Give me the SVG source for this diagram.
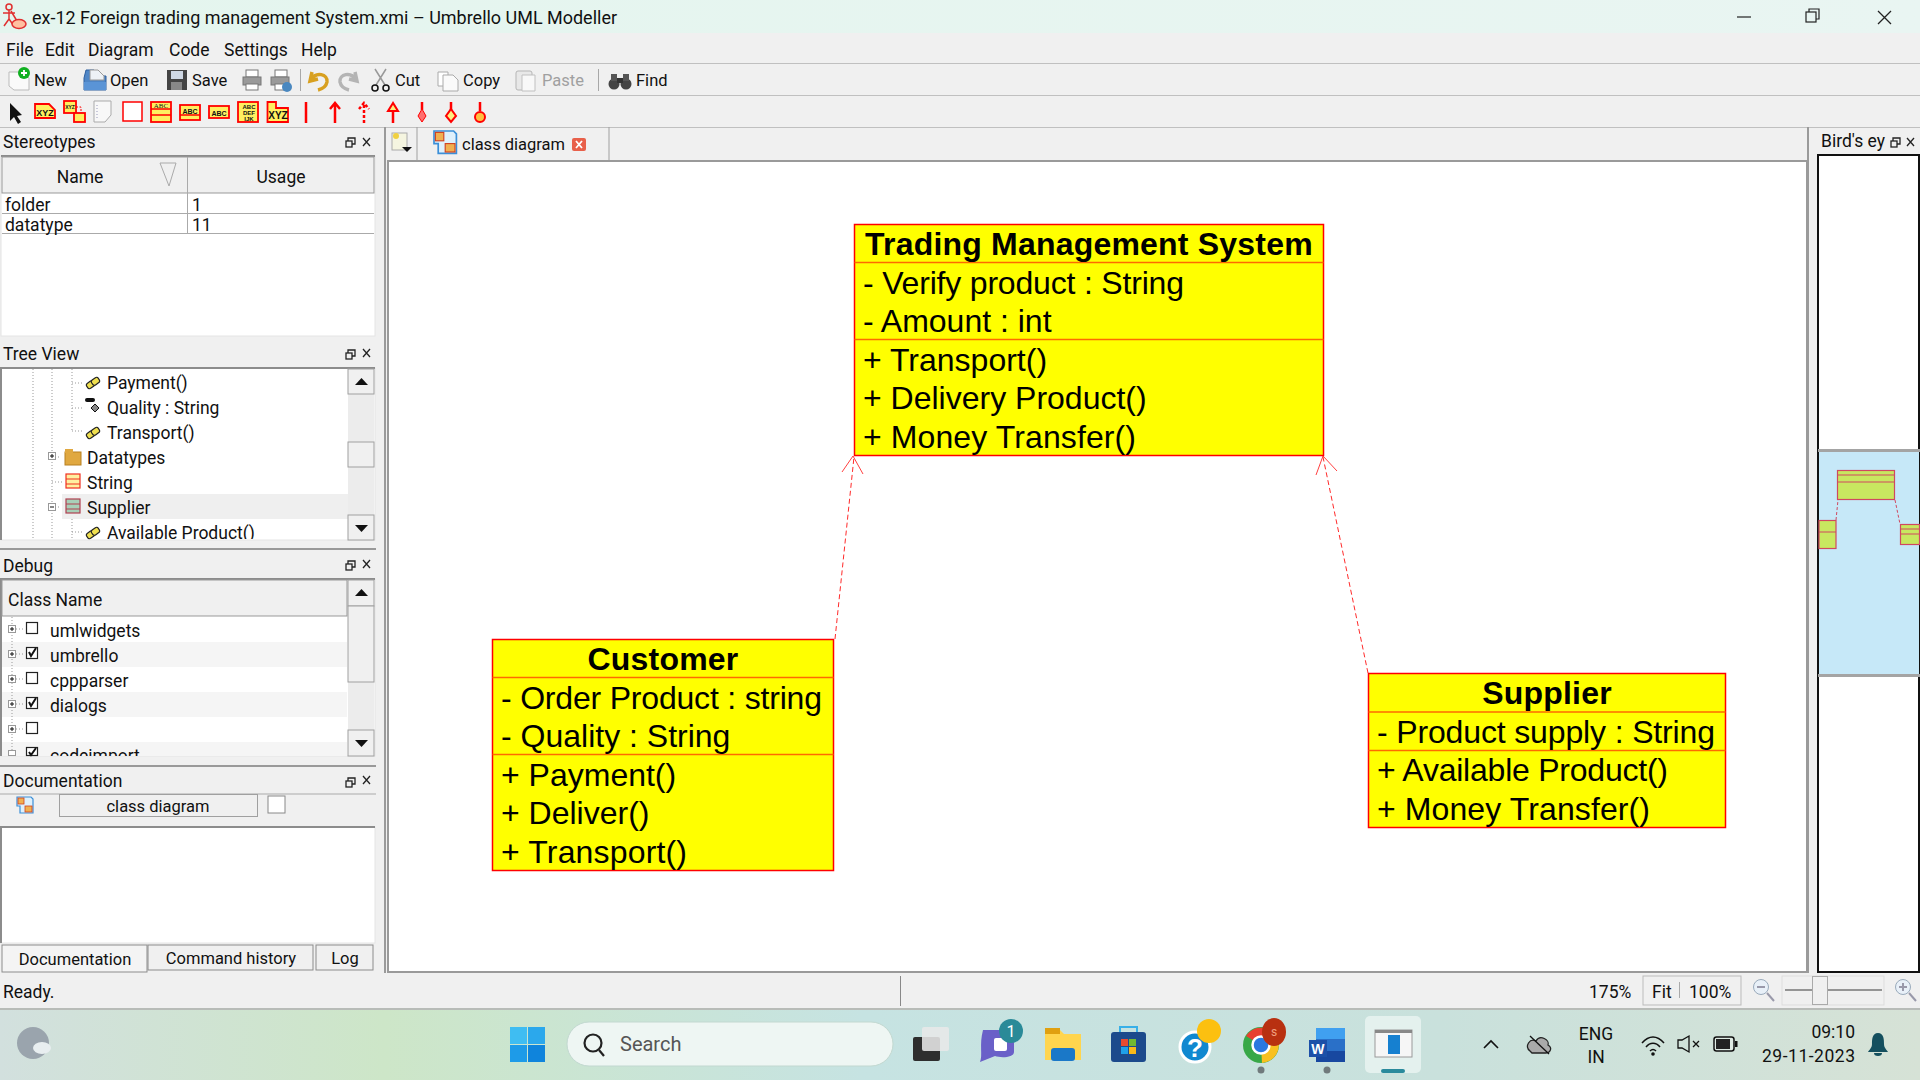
<svg xmlns="http://www.w3.org/2000/svg" width="1920" height="1080" viewBox="0 0 1920 1080">
<style>
.ui{font-family:Roboto,"Noto Sans","Liberation Sans",sans-serif;font-size:17.500px;fill:#111}
.sm{font-size:16.500px}
.dim{fill:#a0a0a0}
.c{text-anchor:middle}
.r{text-anchor:end}
.tiny{font-family:"Liberation Sans",sans-serif;font-weight:bold;font-size:7px;fill:#111;text-anchor:middle}
.box{fill:#ffff00;stroke:#ff0000;stroke-width:1.5}
.div{stroke:#ff6a00;stroke-width:1.5}
.ut{font-family:"Liberation Sans",Arial,sans-serif;font-size:32px;fill:#000}
.ub{font-family:"Liberation Sans",Arial,sans-serif;font-size:32px;font-weight:bold;fill:#000;letter-spacing:.2px}
.assoc{fill:none;stroke:#ff2a2a;stroke-width:1;stroke-dasharray:5 3}
.head{fill:none;stroke:#ff4040;stroke-width:1}
.btn{fill:#f0f0f0;stroke:#a0a0a0;stroke-width:1}
.fr{fill:#fff;stroke:#e4e4e4;stroke-width:1}
.ft{stroke:#8c8c8c;stroke-width:2;fill:none}
.cb{fill:#fff;stroke:#222;stroke-width:1.2}
.chk{fill:none;stroke:#111;stroke-width:2}
.exp{fill:#fff;stroke:#999;stroke-width:1}
.pm{stroke:#111;stroke-width:1}
.dot{stroke:#999;stroke-width:1;stroke-dasharray:1 2;fill:none}
.rl{stroke:#ff0000;stroke-width:2.5;fill:none}
.ic{fill:#ffef60;stroke:#ff0000;stroke-width:1.8}
.key{fill:#f0e050;stroke:#222;stroke-width:1.2}
.tri{fill:#111}
</style>
<defs>
<linearGradient id="tb" x1="0" x2="1" y1="0" y2="0"><stop offset="0" stop-color="#d2e0de"/><stop offset=".2" stop-color="#cde6c8"/><stop offset=".45" stop-color="#c6e3e2"/><stop offset=".75" stop-color="#c9e1dc"/><stop offset="1" stop-color="#d6e2d6"/></linearGradient>
<linearGradient id="ttl" x1="0" x2="1" y1="0" y2="0"><stop offset="0" stop-color="#e4f5ee"/><stop offset="1" stop-color="#e9f5f2"/></linearGradient>
<g id="keyic"><rect class="key" x="-7" y="-3" width="8" height="6" rx="2" transform="rotate(-35)"/><rect class="key" x="-1" y="-3" width="8" height="6" rx="2" transform="rotate(-35)"/></g>
<g id="diag"><path d="M8 0H14L16 2V16H3V9H0V0Z" fill="#dff0fb" stroke="#3b8fd8" stroke-width="1.2"/><rect x="1" y="1" width="6" height="6" fill="#f0b050" stroke="#d04020" stroke-width=".8"/><rect x="8" y="9" width="7" height="6" fill="#f0b050" stroke="#d04020" stroke-width=".8"/></g>
<clipPath id="cl1"><rect x="2" y="369" width="346" height="170"/></clipPath><clipPath id="cl2"><rect x="2" y="742" width="345" height="14"/></clipPath>
</defs>
<rect width="1920" height="1080" fill="#f0f0f0"/>
<rect width="1920" height="33" fill="url(#ttl)"/>
<g id="title-bar">
<circle cx="9" cy="7" r="3" fill="none" stroke="#e03030" stroke-width="1.5"/><path d="M9 10V19M3 13H15M9 19L4 26M9 19L14 26M11 11L17 21" stroke="#e03030" stroke-width="1.5" fill="none"/><ellipse cx="19" cy="24" rx="7" ry="4.5" fill="#ffc0a0" stroke="#e03030" stroke-width="1.5"/>
<text class="ui" x="32" y="24" textLength="585" lengthAdjust="spacingAndGlyphs">ex-12 Foreign trading management System.xmi – Umbrello UML Modeller</text>
<path d="M1737 17H1751" stroke="#222" stroke-width="1.2"/>
<rect x="1806" y="12" width="10" height="10" fill="none" stroke="#222" stroke-width="1.2"/><path d="M1809 12V9H1819V19H1816" fill="none" stroke="#222" stroke-width="1.2"/>
<path d="M1878 11L1891 24M1891 11L1878 24" stroke="#222" stroke-width="1.3"/>
</g>
<g id="menu">
<text class="ui" x="6" y="56">File</text><text class="ui" x="45" y="56">Edit</text><text class="ui" x="88" y="56">Diagram</text><text class="ui" x="169" y="56">Code</text><text class="ui" x="224" y="56">Settings</text><text class="ui" x="301" y="56">Help</text>
</g>
<path d="M0 63.5H1920M0 95.5H1920M0 127.5H1920" stroke="#c0c0c0" stroke-width="1"/>
<g id="toolbar-main">
<path d="M9 72H24L29 78V90H14L9 86Z" fill="#fafafa" stroke="#bbb"/><circle cx="24" cy="73" r="6" fill="#10b020"/><path d="M24 70V76M21 73H27" stroke="#fff" stroke-width="1.8"/>
<text class="ui sm" x="34" y="86">New</text>
<path d="M84 78V90H106V76H98L94 70H86Z" fill="#4f86c6" stroke="#2c5e9e"/><path d="M90 70H98L104 76V80H90Z" fill="#eef2f6" stroke="#999"/><path d="M84 82H106V90H84Z" fill="#5a94d6"/>
<text class="ui sm" x="110" y="86">Open</text>
<rect x="167" y="70" width="20" height="20" fill="#444"/><rect x="171" y="71" width="12" height="8" fill="#cfd8e4"/><rect x="171" y="82" width="11" height="8" fill="#888"/>
<text class="ui sm" x="192" y="86">Save</text>
<g fill="#9a9a9a" stroke="#777"><rect x="246" y="70" width="12" height="7" fill="#fff"/><rect x="243" y="77" width="18" height="8"/><rect x="246" y="84" width="12" height="6" fill="#fff"/></g>
<g fill="#9a9a9a" stroke="#777"><rect x="275" y="70" width="12" height="7" fill="#fff"/><rect x="271" y="77" width="18" height="8"/><rect x="275" y="84" width="10" height="6" fill="#fff"/></g><circle cx="287" cy="87" r="5" fill="#4a88c0"/>
<path d="M300.500 69V91" stroke="#a8a8a8"/>
<path d="M312 72L310 81L318 79M311 80C316 71 328 74 327 82C326 87 322 89 318 90" fill="none" stroke="#d8a020" stroke-width="3.500"/>
<path d="M355 72L357 81L349 79M356 80C351 71 339 74 340 82C341 87 345 89 349 90" fill="none" stroke="#b4b4b4" stroke-width="3.500"/>
<path d="M375 69L385 85M386 69L376 85" stroke="#999" stroke-width="1.500"/><circle cx="375" cy="88" r="3" fill="none" stroke="#111" stroke-width="1.500"/><circle cx="386" cy="88" r="3" fill="none" stroke="#111" stroke-width="1.500"/>
<text class="ui sm" x="395" y="86">Cut</text>
<path d="M438 72H448V86H438Z" fill="#fff" stroke="#aaa"/><path d="M443 75H453L458 80V91H443Z" fill="#fafafa" stroke="#aaa"/>
<text class="ui sm" x="463" y="86">Copy</text>
<rect x="516" y="71" width="16" height="19" rx="2" fill="#e8e8e8" stroke="#b5b5b5"/><path d="M522 75H535V91H522Z" fill="#f8f8f8" stroke="#c0c0c0"/>
<text class="ui sm dim" x="542" y="86">Paste</text>
<path d="M598.500 69V91" stroke="#a8a8a8"/>
<circle cx="614" cy="84" r="5.500" fill="#444"/><circle cx="626" cy="84" r="5.500" fill="#444"/><rect x="611" y="74" width="6" height="7" fill="#555"/><rect x="623" y="74" width="6" height="7" fill="#555"/><rect x="617" y="78" width="6" height="5" fill="#333"/>
<text class="ui sm" x="636" y="86">Find</text>
</g>
<g id="toolbar-uml">
<path d="M10 103V121L14 117L18 124L21 122L17 116L22 115Z" fill="#111"/>
<path class="ic" d="M35 104H49L55 110V118H35Z"/><text class="tiny" x="45" y="116" style="font-size:9px">XYZ</text>
<rect class="ic" x="64" y="101" width="12" height="12"/><text class="tiny" x="70" y="109" style="font-size:5px">XYZ</text><rect class="ic" x="74" y="113" width="11" height="9"/><path d="M76 107H81V113" stroke="#f00" stroke-dasharray="2 1.500" fill="none"/>
<path d="M94 101H111V115L105 122H94Z" fill="#f8f8f8" stroke="#aaa"/><path d="M97 105V118" stroke="#99b" stroke-dasharray="1 2"/>
<rect x="123" y="102" width="19" height="19" fill="#fff" stroke="#f00" stroke-width="1.500"/>
<rect class="ic" x="151" y="102" width="20" height="20"/><path d="M151 109H171M151 115H171" stroke="#f00" stroke-width="1.500"/><text class="tiny" x="161" y="108" style="font-family:'Liberation Serif',serif;font-weight:normal;">ABC</text>
<rect class="ic" x="180" y="105" width="20" height="15"/><path d="M180 115H200" stroke="#f00" stroke-width="1.500"/><text class="tiny" x="190" y="114">ABC</text>
<rect class="ic" x="209" y="106" width="20" height="12"/><text class="tiny" x="219" y="116">ABC</text>
<rect class="ic" x="238" y="102" width="20" height="20"/><text class="tiny" x="249" y="109" style="font-size:6px">ABC</text><text class="tiny" x="249" y="115" style="font-size:6px">DEF</text><text class="tiny" x="249" y="121" style="font-size:6px">IJK</text>
<path class="ic" d="M267.500 102H276V108H288V122H267.500Z"/><text class="tiny" x="278" y="119" style="font-size:10px">XYZ</text>
<path class="rl" d="M306 102V123"/>
<path class="rl" d="M335 123V103M330 109L335 103L340 109"/>
<path class="rl" d="M364 123V103M359 109L364 103L369 109" stroke-dasharray="3 2"/>
<path class="rl" d="M393 123V110" /><path d="M393 103L388 111H398Z" fill="#ffef80" stroke="#f00" stroke-width="2"/>
<path class="rl" d="M422 102V110"/><path d="M422 109L426 116L422 122L418 116Z" fill="#ff7070" stroke="#f00"/>
<path class="rl" d="M451 102V110"/><path d="M451 109L456 116L451 122L446 116Z" fill="#ffef80" stroke="#f00" stroke-width="2"/>
<path class="rl" d="M480 102V111"/><circle cx="480" cy="117" r="5" fill="#ffc040" stroke="#f00" stroke-width="2"/>
</g>
<g id="panel-stereotypes">
<text class="ui" x="3" y="148">Stereotypes</text>
<rect class="fr" x="1" y="156" width="374" height="180"/><path class="ft" d="M1 156H375"/>
<rect x="2" y="157" width="372" height="36" fill="#f0f0f0" stroke="#999"/><path d="M187.500 157V233M2 213.500H374M2 233.500H374" stroke="#aaa"/>
<path d="M160 163H176L169 186Z" fill="none" stroke="#aaa"/>
<text class="ui c" x="80" y="183">Name</text><text class="ui c" x="281" y="183">Usage</text>
<text class="ui" x="5" y="211">folder</text><text class="ui" x="192" y="211">1</text>
<text class="ui" x="5" y="231">datatype</text><text class="ui" x="192" y="231">11</text>
</g>
<g id="panel-tree">
<text class="ui" x="3" y="360">Tree View</text>
<rect class="fr" x="1" y="368" width="374" height="172"/><path class="ft" d="M1 540V368H375"/>
<rect x="62" y="494" width="286" height="25" fill="#efefef"/>
<rect x="348" y="369" width="26" height="171" fill="#ececec"/>
<rect class="btn" x="348" y="369" width="26" height="25"/><path class="tri" d="M355 385H368L361.500 378Z"/>
<rect class="btn" x="348" y="442" width="26" height="25"/>
<rect class="btn" x="348" y="515" width="26" height="25"/><path class="tri" d="M355 525H368L361.500 532Z"/>
<path class="dot" d="M33 369V540M52 369V540M72 369V430M72 383H82M72 408H82M72 431H82M52 457H60M52 482H62M52 507H60M72 519V540M72 532H82"/>
<use href="#keyic" x="93" y="383"/><use href="#keyic" x="93" y="433"/><use href="#keyic" x="93" y="533"/>
<rect x="85" y="398" width="10" height="4" rx="2" fill="#111"/><path d="M95 404L99 408L95 412L91 408Z" fill="#888" stroke="#111"/>
<rect x="65" y="452" width="16" height="13" fill="#e0a840" stroke="#b88020"/><rect x="65" y="449" width="8" height="4" fill="#e0a840"/>
<rect x="66" y="474" width="14" height="14" fill="#fff0a0" stroke="#f03020" stroke-width="1.200"/><path d="M66 479H80M66 484H80" stroke="#f03020"/>
<rect x="66" y="499" width="14" height="14" fill="#a8d0b8" stroke="#b04050" stroke-width="1.200"/><path d="M66 504H80M66 509H80" stroke="#b04050"/>
<rect class="exp" x="48.500" y="452.500" width="7" height="7"/><path class="pm" d="M50 456H54M52 454V458"/>
<rect class="exp" x="48.500" y="503.500" width="7" height="7"/><path class="pm" d="M50 507H54"/>
<g clip-path="url(#cl1)"><text class="ui" x="107" y="389">Payment()</text><text class="ui" x="107" y="414">Quality : String</text><text class="ui" x="107" y="439">Transport()</text><text class="ui" x="87" y="464">Datatypes</text><text class="ui" x="87" y="489">String</text><text class="ui" x="87" y="514">Supplier</text><text class="ui" x="107" y="539">Available Product()</text></g>
</g>
<g id="panel-debug">
<path d="M0 549H376" stroke="#999" stroke-width="2"/>
<text class="ui" x="3" y="572">Debug</text>
<rect class="fr" x="1" y="579" width="374" height="177"/><path class="ft" d="M1 756V579H375"/>
<rect x="2" y="580" width="345" height="36" fill="#f0f0f0" stroke="#999"/>
<text class="ui" x="8" y="606">Class Name</text>
<rect x="2" y="642" width="345" height="25" fill="#f5f5f5"/><rect x="2" y="692" width="345" height="25" fill="#f5f5f5"/><rect x="2" y="742" width="345" height="14" fill="#f5f5f5"/>
<rect x="348" y="580" width="26" height="176" fill="#ececec"/>
<rect class="btn" x="348" y="580" width="26" height="26"/><path class="tri" d="M355 596H368L361.500 589Z"/>
<rect class="btn" x="348" y="606" width="26" height="76"/>
<rect class="btn" x="348" y="730" width="26" height="26"/><path class="tri" d="M355 740H368L361.500 747Z"/>
<path class="dot" d="M12 617V756M16 629H24M16 654H24M16 679H24M16 704H24M16 729H24"/>
<g id="exps"><rect class="exp" x="8.500" y="625.500" width="7" height="7"/><path class="pm" d="M10 629H14M12 627V631"/><rect class="exp" x="8.500" y="650.500" width="7" height="7"/><path class="pm" d="M10 654H14M12 652V656"/><rect class="exp" x="8.500" y="675.500" width="7" height="7"/><path class="pm" d="M10 679H14M12 677V681"/><rect class="exp" x="8.500" y="700.500" width="7" height="7"/><path class="pm" d="M10 704H14M12 702V706"/><rect class="exp" x="8.500" y="725.500" width="7" height="7"/><path class="pm" d="M10 729H14M12 727V731"/><rect class="exp" x="8.500" y="750.500" width="7" height="5"/></g>
<rect class="cb" x="26.500" y="622.500" width="11" height="11"/><rect class="cb" x="26.500" y="647.500" width="11" height="11"/><rect class="cb" x="26.500" y="672.500" width="11" height="11"/><rect class="cb" x="26.500" y="697.500" width="11" height="11"/><rect class="cb" x="26.500" y="722.500" width="11" height="11"/><rect class="cb" x="26.500" y="747.500" width="11" height="8"/>
<path class="chk" d="M29 652L31 656L36 648M29 702L31 706L36 698M29 752L31 755L36 748"/>
<text class="ui" x="50" y="637">umlwidgets</text><text class="ui" x="50" y="662">umbrello</text><text class="ui" x="50" y="687">cppparser</text><text class="ui" x="50" y="712">dialogs</text>
<g clip-path="url(#cl2)"><text class="ui" x="50" y="762">codeimport</text></g>
</g>
<g id="panel-documentation">
<path d="M0 766H376" stroke="#999" stroke-width="2"/>
<text class="ui" x="3" y="787">Documentation</text>
<path d="M0 794H376" stroke="#aaa"/>
<use href="#diag" x="17" y="797"/>
<rect class="btn" x="59.500" y="794.500" width="198" height="22"/>
<text class="ui sm c" x="158" y="812">class diagram</text>
<rect x="268" y="796" width="17" height="17" fill="#fff" stroke="#888"/>
<rect class="fr" x="1" y="827" width="374" height="116"/><path class="ft" d="M1 943V827H375"/>
<rect x="2" y="945" width="145" height="27" fill="#f4f4f4" stroke="#8c8c8c"/><text class="ui sm c" x="75" y="965">Documentation</text>
<rect x="148" y="945" width="165" height="25" fill="#f0f0f0" stroke="#8c8c8c"/><text class="ui sm c" x="231" y="964">Command history</text>
<rect x="316" y="945" width="57" height="25" fill="#f0f0f0" stroke="#8c8c8c"/><text class="ui sm c" x="345" y="964">Log</text>
</g>
<g id="canvas-area">
<rect x="384" y="127" width="2" height="846" fill="#9a9a9a"/>
<rect x="1807" y="127" width="2" height="846" fill="#9a9a9a"/>
<rect x="388" y="161" width="1419" height="811" fill="#fff" stroke="#9a9a9a" stroke-width="2"/>
<rect x="392" y="133" width="15" height="17" fill="#f5f5e0" stroke="#aaa"/><circle cx="396" cy="136" r="3" fill="#f0d040"/><path class="tri" d="M402 147H412L407 152Z"/>
<path d="M417 127V160M609 127V160" stroke="#a0a0a0"/>
<use href="#diag" transform="translate(434 131) scale(1.4)"/>
<text class="ui sm" x="462" y="150">class diagram</text>
<rect x="572" y="138" width="14" height="13" rx="2" fill="#e8604a"/><path d="M576 141L582 148M582 141L576 148" stroke="#fff" stroke-width="1.800"/>
</g>
<g id="connectors">
<path class="assoc" d="M835 639L854 457"/>
<path class="assoc" d="M1368 673L1323 457"/>
<path class="head" d="M842 472L853 456L863 474"/>
<path class="head" d="M1316 475L1323 456L1337 471"/>
</g>
<g id="node-trading">
<rect class="box" x="854.500" y="224.500" width="469" height="231"/>
<path class="div" d="M854.500 262.500H1323.500M854.500 339.500H1323.500"/>
<text class="ub" x="865" y="255">Trading Management System</text>
<text class="ut" x="863" y="294" textLength="321">- Verify product : String</text>
<text class="ut" x="863" y="332">- Amount : int</text>
<text class="ut" x="863" y="371">+ Transport()</text>
<text class="ut" x="863" y="409">+ Delivery Product()</text>
<text class="ut" x="863" y="448" textLength="273">+ Money Transfer()</text>
</g>
<g id="node-customer">
<rect class="box" x="492.500" y="639.500" width="341" height="231"/>
<path class="div" d="M492.500 677.500H833.500M492.500 754.500H833.500"/>
<text class="ub c" x="663" y="670">Customer</text>
<text class="ut" x="501" y="709" textLength="321">- Order Product : string</text>
<text class="ut" x="501" y="747">- Quality : String</text>
<text class="ut" x="501" y="786">+ Payment()</text>
<text class="ut" x="501" y="824">+ Deliver()</text>
<text class="ut" x="501" y="863" textLength="186">+ Transport()</text>
</g>
<g id="node-supplier">
<rect class="box" x="1368.500" y="673.500" width="357" height="154"/>
<path class="div" d="M1368.500 712H1725.500M1368.500 750.500H1725.500"/>
<text class="ub c" x="1547" y="704">Supplier</text>
<text class="ut" x="1377" y="743" textLength="338">- Product supply : String</text>
<text class="ut" x="1377" y="781" textLength="291">+ Available Product()</text>
<text class="ut" x="1377" y="820" textLength="273">+ Money Transfer()</text>
</g>
<g id="birdseye">
<text class="ui" x="1821" y="147">Bird's ey</text>
<rect x="1818" y="155" width="101" height="817" fill="#fff" stroke="#111" stroke-width="2"/>
<rect x="1819" y="451" width="100" height="224" fill="#c6e8f8"/>
<path d="M1818 450.500H1920M1818 675.500H1920" stroke="#a4a4a4" stroke-width="3"/>
<rect x="1837.500" y="470.500" width="57" height="29" fill="#c8e860" stroke="#d04860" stroke-width="1.200"/><path d="M1837.500 475H1894.500M1837.500 482H1894.500" stroke="#d04860"/>
<rect x="1819" y="520.500" width="17" height="28" fill="#c8e860" stroke="#d04860" stroke-width="1.200"/><path d="M1819 532H1836" stroke="#d04860"/>
<rect x="1900.500" y="524.500" width="19" height="20" fill="#c8e860" stroke="#d04860" stroke-width="1.200"/><path d="M1900.500 529H1919M1900.500 534H1919" stroke="#d04860"/>
<path d="M1836 520L1838 500M1895 500L1900 524" stroke="#d04860" stroke-width="1" stroke-dasharray="3 2" fill="none"/>
</g>
<g id="dock-buttons">
<g fill="none" stroke="#222" stroke-width="1.300"><rect x="346" y="141" width="6" height="6"/><path d="M348 141V138H355V144H352"/><path d="M363 138L370 146M370 138L363 146"/>
<rect x="346" y="353" width="6" height="6"/><path d="M348 353V350H355V356H352"/><path d="M363 349L370 357M370 349L363 357"/>
<rect x="346" y="564" width="6" height="6"/><path d="M348 564V561H355V567H352"/><path d="M363 560L370 568M370 560L363 568"/>
<rect x="346" y="781" width="6" height="6"/><path d="M348 781V778H355V784H352"/><path d="M363 776L370 784M370 776L363 784"/>
<rect x="1891" y="141" width="6" height="6"/><path d="M1893 141V138H1900V144H1897"/><path d="M1907 138L1914 146M1914 138L1907 146"/></g>
</g>
<g id="status-bar">
<text class="ui" x="3" y="998">Ready.</text>
<path d="M900.500 976V1006" stroke="#888"/>
<text class="ui" x="1589" y="998">175%</text>
<rect x="1643" y="976" width="98" height="29" fill="#f0f0f0" stroke="#bbb"/><path d="M1679.500 982V998" stroke="#aaa"/>
<text class="ui" x="1652" y="998">Fit</text><text class="ui" x="1689" y="998">100%</text>
<circle cx="1761" cy="987" r="7.500" fill="#e8f0f8" stroke="#9ab"/><path d="M1757 987H1765M1767 993L1774 1001" stroke="#99a" stroke-width="2"/>
<rect x="1782" y="976" width="102" height="29" fill="none" stroke="#ddd"/>
<path d="M1785 990H1882" stroke="#777" stroke-width="1.500"/><rect x="1812.500" y="976.500" width="15" height="28" fill="#f0f0f0" stroke="#aaa"/>
<circle cx="1903" cy="987" r="7.500" fill="#e8f0f8" stroke="#9ab"/><path d="M1899 987H1907M1903 983V991M1909 993L1916 1001" stroke="#99a" stroke-width="2"/>
<rect y="1008" width="1920" height="2" fill="#b8bcb8"/>
</g>
<g id="taskbar">
<rect y="1010" width="1920" height="70" fill="url(#tb)"/>
<circle cx="33" cy="1043" r="16" fill="#9aa4ad"/><ellipse cx="42" cy="1048" rx="9" ry="6" fill="#e8eef0"/>
<g fill="#1e9be8"><rect x="510" y="1027" width="17" height="17" fill="#3fbdf2"/><rect x="528" y="1027" width="17" height="17" fill="#2ba8ec"/><rect x="510" y="1045" width="17" height="17"/><rect x="528" y="1045" width="17" height="17" fill="#0f84dc"/></g>
<rect x="567" y="1022" width="326" height="44" rx="22" fill="#eef6f3" stroke="#c2d8d0"/>
<circle cx="593" cy="1043" r="8.500" fill="none" stroke="#222" stroke-width="2.200"/><path d="M599 1050L604 1056" stroke="#222" stroke-width="2.200"/>
<text class="ui" x="620" y="1051" style="font-size:20px;fill:#555">Search</text>
<rect x="913" y="1037" width="27" height="24" rx="2" fill="#2e2e2e"/><rect x="922" y="1027" width="27" height="24" rx="2" fill="#e8e8e8" fill-opacity=".88"/>
<path d="M983 1030H1014V1052C1014 1058 1000 1058 995 1056L980 1062C983 1055 979 1045 983 1030Z" fill="#6a60c8"/><rect x="994" y="1038" width="13" height="13" rx="2" fill="#fff"/>
<circle cx="1011" cy="1031" r="12" fill="#2a8a98"/><text class="ui c" x="1011" y="1037" style="fill:#fff;font-size:16px">1</text>
<path d="M1045 1030H1060L1064 1034H1081V1060H1045Z" fill="#ffd54e"/><rect x="1045" y="1028" width="15" height="6" fill="#e0a010"/><rect x="1051" y="1048" width="24" height="13" rx="3" fill="#1a78c8"/>
<rect x="1111" y="1032" width="35" height="30" rx="3" fill="#1c4a8c"/><path d="M1120 1032V1027H1137V1032" fill="none" stroke="#38b0e8" stroke-width="2"/>
<rect x="1121" y="1039" width="7" height="7" fill="#e84a30"/><rect x="1129" y="1039" width="7" height="7" fill="#70b830"/><rect x="1121" y="1047" width="7" height="7" fill="#20a0e8"/><rect x="1129" y="1047" width="7" height="7" fill="#f8b818"/>
<circle cx="1195" cy="1047" r="15" fill="#1088d0" stroke="#fff" stroke-width="3"/><text class="ub c" x="1195" y="1057" style="fill:#fff;font-size:26px">?</text>
<circle cx="1209" cy="1031" r="12" fill="#fcc010"/>
<circle cx="1261" cy="1045" r="18" fill="#38a848"/><path d="M1261 1045L1246 1036A18 18 0 0 1 1277 1037Z" fill="#e84030"/><path d="M1261 1045L1277 1037A18 18 0 0 1 1262 1063Z" fill="#f8c020"/><circle cx="1261" cy="1045" r="8.500" fill="#2a78e0" stroke="#fff" stroke-width="2.500"/>
<ellipse cx="1274" cy="1032" rx="12" ry="14" fill="#b83010"/><text class="ui c" x="1274" y="1036" style="fill:#f0a080;font-size:12px">s</text>
<rect x="1316" y="1028" width="29" height="34" rx="2" fill="#2a70c8"/><rect x="1316" y="1028" width="29" height="11" fill="#40a0f0"/><rect x="1316" y="1051" width="29" height="11" fill="#1848a0"/><rect x="1309" y="1040" width="18" height="17" fill="#1c50a8"/><text class="ub c" x="1318" y="1054" style="fill:#fff;font-size:14px">W</text>
<circle cx="1261" cy="1070" r="3.500" fill="#707a7c"/><circle cx="1327" cy="1070" r="3.500" fill="#707a7c"/>
<rect x="1365" y="1016" width="56" height="57" rx="5" fill="#e4f1ee"/>
<rect x="1375" y="1030" width="37" height="27" fill="#f6f6f6" stroke="#9a9a9a"/><rect x="1375" y="1030" width="37" height="3" fill="#888"/><rect x="1388" y="1035" width="12" height="19" fill="#1680d0"/>
<rect x="1381" y="1069" width="24" height="4" rx="2" fill="#2a8a9c"/>
<path d="M1484 1048L1491 1041L1498 1048" fill="none" stroke="#111" stroke-width="1.600"/>
<path d="M1530 1051C1524 1046 1530 1038 1536 1041C1540 1034 1550 1040 1548 1045C1553 1048 1550 1053 1546 1053H1532Z" fill="#aaa" stroke="#222" stroke-width="1.300"/><path d="M1530 1036L1549 1054" stroke="#111" stroke-width="1.300"/>
<text class="ui c" x="1596" y="1040">ENG</text><text class="ui c" x="1596" y="1063">IN</text>
<path d="M1642 1043C1649 1035 1657 1035 1664 1043M1646 1047C1650 1042 1656 1042 1660 1047M1650 1051C1652 1049 1654 1049 1656 1051" fill="none" stroke="#111" stroke-width="1.500"/><circle cx="1653" cy="1054" r="1.800" fill="#111"/>
<path d="M1678 1040H1682L1689 1036V1052L1682 1048H1678Z" fill="none" stroke="#111" stroke-width="1.300"/><path d="M1693 1041L1699 1047M1699 1041L1693 1047" stroke="#111" stroke-width="1.300"/>
<rect x="1714" y="1037" width="20" height="14" rx="2.500" fill="#fff" fill-opacity=".3" stroke="#111" stroke-width="1.500"/><rect x="1716" y="1039" width="14" height="10" fill="#222"/><rect x="1735" y="1041" width="2.500" height="6" fill="#111"/>
<text class="ui r" x="1855" y="1038">09:10</text><text class="ui r" x="1855" y="1062" textLength="93">29-11-2023</text>
<path d="M1878 1033C1872 1033 1872 1040 1872 1044C1872 1048 1869 1050 1868 1052H1888C1887 1050 1884 1048 1884 1044C1884 1040 1884 1033 1878 1033Z" fill="#144f5e"/><path d="M1874 1053H1882A4 3 0 0 1 1874 1053Z" fill="#144f5e"/>
</g>
</svg>
